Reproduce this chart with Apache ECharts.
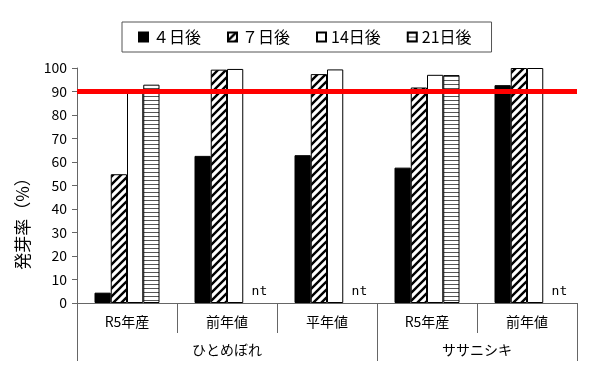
<!DOCTYPE html>
<html><head><meta charset="utf-8">
<script src="https://cdn.jsdelivr.net/npm/echarts@6/dist/echarts.min.js"></script>
<style>html,body{margin:0;padding:0;background:#fff}#c{width:600px;height:380px}</style>
</head><body><div id="c"></div>
<script>
// ---- data ----
const categories = ['R5年産', '前年値', '平年値', 'R5年産', '前年値'];
const varieties = ['ひとめぼれ', 'ササニシキ'];
const varietyCenters = [1.5, 4];
const varietyBounds = [0, 3, 5];
const seriesNames = ['４日後', '７日後', '14日後', '21日後'];
const day4 = [4.4, 62.6, 62.9, 57.6, 92.7];
const day7 = [54.8, 99.3, 97.4, 91.7, 100];
const day14 = [89.5, 99.6, 99.4, 97.1, 100];
const day21 = [92.9, null, null, 97.0, null];
const notTestedLabel = 'nt';
const yMin = 0, yMax = 100, yStep = 10;
const targetLine = 90;
const yAxisName = '発芽率（%）';

// ---- patterns ----
function hatchDiag() {
  const c = document.createElement('canvas'); c.width = 8; c.height = 8;
  const g = c.getContext('2d');
  g.fillStyle = '#fff'; g.fillRect(0, 0, 8, 8);
  g.strokeStyle = '#000'; g.lineWidth = 2.4; g.lineCap = 'square';
  g.beginPath();
  g.moveTo(-2, 10); g.lineTo(10, -2);
  g.moveTo(-2, 2); g.lineTo(2, -2);
  g.moveTo(6, 10); g.lineTo(10, 6);
  g.stroke();
  return c;
}
function hatchHoriz() {
  const c = document.createElement('canvas'); c.width = 4; c.height = 4;
  const g = c.getContext('2d');
  g.fillStyle = '#fff'; g.fillRect(0, 0, 4, 4);
  g.fillStyle = '#555'; g.fillRect(0, 0, 4, 1);
  return c;
}
const fills = [
  '#000',
  { image: hatchDiag(), repeat: 'repeat' },
  '#fff',
  { image: hatchHoriz(), repeat: 'repeat' }
];
const allData = [day4, day7, day14, day21];
const FONT = '"Noto Sans CJK JP", "Noto Sans", sans-serif';
const AX = '#666';

const series = allData.map((arr, i) => ({
  name: seriesNames[i],
  type: 'bar',
  xAxisIndex: 0,
  barGap: '0%',
  barCategoryGap: '35%',
  itemStyle: { color: fills[i], borderColor: '#000', borderWidth: 1 },
  emphasis: { disabled: true },
  data: arr.map(v => v === null ? {
    value: 0,
    itemStyle: { borderWidth: 0 },
    label: { show: true, formatter: notTestedLabel, position: 'top', distance: 5, offset: [8, 0],
             fontFamily: '"DejaVu Sans Mono", monospace', fontSize: 13, color: '#000' }
  } : v)
}));
series[0].markLine = {
  silent: true, symbol: ['none', 'none'], label: { show: false },
  lineStyle: { color: '#ff0000', width: 5, type: 'solid' },
  data: [{ yAxis: targetLine }]
};

const chart = echarts.init(document.getElementById('c'), null, { renderer: 'canvas' });
chart.setOption({
  animation: false,
  backgroundColor: '#fff',
  textStyle: { fontFamily: FONT },
  legend: {
    left: 122, top: 22,
    data: seriesNames,
    icon: 'rect', itemWidth: 9, itemHeight: 9, itemGap: 26,
    borderColor: '#555', borderWidth: 1, padding: [7, 20, 7, 16],
    textStyle: { fontSize: 16, color: '#000', fontFamily: FONT }
  },
  grid: { left: 77, right: 23, top: 68, bottom: 77, containLabel: false },
  xAxis: [{
    type: 'category', data: categories, position: 'bottom',
    axisLine: { lineStyle: { color: AX } },
    axisTick: { show: true, interval: 0, length: 30, lineStyle: { color: AX } },
    axisLabel: { interval: 0, margin: 12, fontSize: 14, color: '#000', fontFamily: FONT }
  }, {
    type: 'value', min: 0, max: 5, position: 'bottom',
    axisLine: { show: false },
    splitLine: { show: false },
    axisTick: { show: true, customValues: varietyBounds, length: 58, lineStyle: { color: AX } },
    axisLabel: { customValues: varietyCenters, margin: 40, fontSize: 14, color: '#000', fontFamily: FONT,
                 formatter: v => varieties[varietyCenters.indexOf(v)] }
  }],
  yAxis: {
    type: 'value', min: yMin, max: yMax, interval: yStep,
    name: yAxisName, nameLocation: 'middle', nameRotate: 90, nameGap: 46,
    nameTextStyle: { fontSize: 17, color: '#000', fontFamily: FONT, padding: [0, 68, 0, 0] },
    axisLine: { show: true, lineStyle: { color: AX } },
    axisTick: { show: true, length: 5, lineStyle: { color: AX } },
    splitLine: { show: false },
    axisLabel: { fontSize: 14, color: '#000', margin: 10, fontFamily: FONT }
  },
  series: series
});
</script></body></html>
